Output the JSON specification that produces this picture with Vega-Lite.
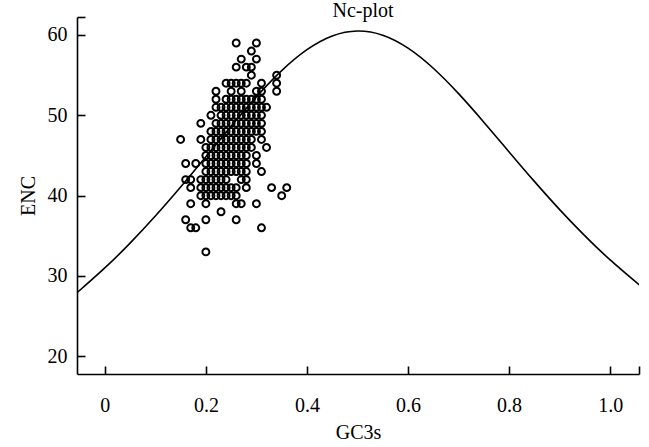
{
  "$schema": "https://vega.github.io/schema/vega-lite/v6.json",
  "autosize": "none",
  "width": 562,
  "height": 357,
  "padding": {"left": 77, "top": 17, "right": 10, "bottom": 73},
  "background": "white",
  "config": {
    "view": {"stroke": null},
    "font": "Liberation Serif",
    "axis": {"grid": false, "domainColor": "black", "domainWidth": 1.6, "tickColor": "black", "tickWidth": 1.6, "tickSize": -8, "labelFont": "Liberation Serif", "labelFontSize": 20, "labelColor": "black", "titleFont": "Liberation Serif", "titleFontSize": 20, "titleFontWeight": "normal", "titleColor": "black"}
  },
  "title": {"text": "Nc-plot", "font": "Liberation Serif", "fontSize": 20, "fontWeight": "normal", "color": "black", "anchor": "middle", "baseline": "alphabetic", "offset": -30, "dx": 5},
  "datasets": {
    "curve": [
      {"s": -0.06, "enc": 27.667}, {"s": -0.05, "enc": 28.194}, {"s": 0.0, "enc": 31.0}, {"s": 0.05, "enc": 34.094},
      {"s": 0.1, "enc": 37.466}, {"s": 0.15, "enc": 41.076}, {"s": 0.2, "enc": 44.847}, {"s": 0.25, "enc": 48.65},
      {"s": 0.3, "enc": 52.3}, {"s": 0.35, "enc": 55.561}, {"s": 0.4, "enc": 58.169}, {"s": 0.45, "enc": 59.876},
      {"s": 0.5, "enc": 60.5}, {"s": 0.55, "enc": 59.976}, {"s": 0.6, "enc": 58.369}, {"s": 0.65, "enc": 55.861},
      {"s": 0.7, "enc": 52.7}, {"s": 0.75, "enc": 49.15}, {"s": 0.8, "enc": 45.447}, {"s": 0.85, "enc": 41.776},
      {"s": 0.9, "enc": 38.266}, {"s": 0.95, "enc": 34.994}, {"s": 1.0, "enc": 32.0}, {"s": 1.05, "enc": 29.294},
      {"s": 1.06, "enc": 28.787}
    ],
    "points": [
      {"gc3s": 0.26, "enc": 59}, {"gc3s": 0.30, "enc": 59},
      {"gc3s": 0.29, "enc": 58},
      {"gc3s": 0.27, "enc": 57}, {"gc3s": 0.30, "enc": 57},
      {"gc3s": 0.26, "enc": 56}, {"gc3s": 0.28, "enc": 56}, {"gc3s": 0.29, "enc": 56},
      {"gc3s": 0.29, "enc": 55}, {"gc3s": 0.34, "enc": 55},
      {"gc3s": 0.24, "enc": 54}, {"gc3s": 0.25, "enc": 54}, {"gc3s": 0.26, "enc": 54}, {"gc3s": 0.27, "enc": 54}, {"gc3s": 0.28, "enc": 54}, {"gc3s": 0.31, "enc": 54}, {"gc3s": 0.34, "enc": 54},
      {"gc3s": 0.22, "enc": 53}, {"gc3s": 0.25, "enc": 53}, {"gc3s": 0.27, "enc": 53}, {"gc3s": 0.30, "enc": 53}, {"gc3s": 0.31, "enc": 53}, {"gc3s": 0.34, "enc": 53},
      {"gc3s": 0.22, "enc": 52}, {"gc3s": 0.24, "enc": 52}, {"gc3s": 0.25, "enc": 52}, {"gc3s": 0.26, "enc": 52}, {"gc3s": 0.27, "enc": 52}, {"gc3s": 0.28, "enc": 52}, {"gc3s": 0.29, "enc": 52}, {"gc3s": 0.30, "enc": 52}, {"gc3s": 0.31, "enc": 52},
      {"gc3s": 0.22, "enc": 51}, {"gc3s": 0.23, "enc": 51}, {"gc3s": 0.24, "enc": 51}, {"gc3s": 0.25, "enc": 51}, {"gc3s": 0.26, "enc": 51}, {"gc3s": 0.27, "enc": 51}, {"gc3s": 0.28, "enc": 51}, {"gc3s": 0.29, "enc": 51}, {"gc3s": 0.30, "enc": 51}, {"gc3s": 0.31, "enc": 51}, {"gc3s": 0.32, "enc": 51},
      {"gc3s": 0.21, "enc": 50}, {"gc3s": 0.23, "enc": 50}, {"gc3s": 0.24, "enc": 50}, {"gc3s": 0.25, "enc": 50}, {"gc3s": 0.26, "enc": 50}, {"gc3s": 0.27, "enc": 50}, {"gc3s": 0.28, "enc": 50}, {"gc3s": 0.29, "enc": 50}, {"gc3s": 0.30, "enc": 50}, {"gc3s": 0.31, "enc": 50},
      {"gc3s": 0.19, "enc": 49}, {"gc3s": 0.22, "enc": 49}, {"gc3s": 0.23, "enc": 49}, {"gc3s": 0.24, "enc": 49}, {"gc3s": 0.25, "enc": 49}, {"gc3s": 0.26, "enc": 49}, {"gc3s": 0.27, "enc": 49}, {"gc3s": 0.28, "enc": 49}, {"gc3s": 0.29, "enc": 49}, {"gc3s": 0.30, "enc": 49}, {"gc3s": 0.31, "enc": 49},
      {"gc3s": 0.21, "enc": 48}, {"gc3s": 0.22, "enc": 48}, {"gc3s": 0.23, "enc": 48}, {"gc3s": 0.24, "enc": 48}, {"gc3s": 0.25, "enc": 48}, {"gc3s": 0.26, "enc": 48}, {"gc3s": 0.27, "enc": 48}, {"gc3s": 0.28, "enc": 48}, {"gc3s": 0.29, "enc": 48}, {"gc3s": 0.30, "enc": 48}, {"gc3s": 0.31, "enc": 48},
      {"gc3s": 0.15, "enc": 47}, {"gc3s": 0.19, "enc": 47}, {"gc3s": 0.21, "enc": 47}, {"gc3s": 0.22, "enc": 47}, {"gc3s": 0.23, "enc": 47}, {"gc3s": 0.24, "enc": 47}, {"gc3s": 0.25, "enc": 47}, {"gc3s": 0.26, "enc": 47}, {"gc3s": 0.27, "enc": 47}, {"gc3s": 0.28, "enc": 47}, {"gc3s": 0.29, "enc": 47}, {"gc3s": 0.31, "enc": 47},
      {"gc3s": 0.20, "enc": 46}, {"gc3s": 0.21, "enc": 46}, {"gc3s": 0.22, "enc": 46}, {"gc3s": 0.23, "enc": 46}, {"gc3s": 0.24, "enc": 46}, {"gc3s": 0.25, "enc": 46}, {"gc3s": 0.26, "enc": 46}, {"gc3s": 0.27, "enc": 46}, {"gc3s": 0.28, "enc": 46}, {"gc3s": 0.29, "enc": 46}, {"gc3s": 0.32, "enc": 46},
      {"gc3s": 0.20, "enc": 45}, {"gc3s": 0.21, "enc": 45}, {"gc3s": 0.22, "enc": 45}, {"gc3s": 0.23, "enc": 45}, {"gc3s": 0.24, "enc": 45}, {"gc3s": 0.25, "enc": 45}, {"gc3s": 0.26, "enc": 45}, {"gc3s": 0.27, "enc": 45}, {"gc3s": 0.28, "enc": 45}, {"gc3s": 0.30, "enc": 45},
      {"gc3s": 0.16, "enc": 44}, {"gc3s": 0.18, "enc": 44}, {"gc3s": 0.20, "enc": 44}, {"gc3s": 0.21, "enc": 44}, {"gc3s": 0.22, "enc": 44}, {"gc3s": 0.23, "enc": 44}, {"gc3s": 0.24, "enc": 44}, {"gc3s": 0.25, "enc": 44}, {"gc3s": 0.26, "enc": 44}, {"gc3s": 0.27, "enc": 44}, {"gc3s": 0.28, "enc": 44}, {"gc3s": 0.30, "enc": 44},
      {"gc3s": 0.20, "enc": 43}, {"gc3s": 0.21, "enc": 43}, {"gc3s": 0.22, "enc": 43}, {"gc3s": 0.23, "enc": 43}, {"gc3s": 0.24, "enc": 43}, {"gc3s": 0.25, "enc": 43}, {"gc3s": 0.26, "enc": 43}, {"gc3s": 0.27, "enc": 43}, {"gc3s": 0.28, "enc": 43}, {"gc3s": 0.31, "enc": 43},
      {"gc3s": 0.16, "enc": 42}, {"gc3s": 0.17, "enc": 42}, {"gc3s": 0.19, "enc": 42}, {"gc3s": 0.20, "enc": 42}, {"gc3s": 0.21, "enc": 42}, {"gc3s": 0.22, "enc": 42}, {"gc3s": 0.23, "enc": 42}, {"gc3s": 0.24, "enc": 42}, {"gc3s": 0.27, "enc": 42}, {"gc3s": 0.28, "enc": 42},
      {"gc3s": 0.17, "enc": 41}, {"gc3s": 0.19, "enc": 41}, {"gc3s": 0.20, "enc": 41}, {"gc3s": 0.21, "enc": 41}, {"gc3s": 0.22, "enc": 41}, {"gc3s": 0.23, "enc": 41}, {"gc3s": 0.24, "enc": 41}, {"gc3s": 0.25, "enc": 41}, {"gc3s": 0.26, "enc": 41}, {"gc3s": 0.28, "enc": 41}, {"gc3s": 0.33, "enc": 41}, {"gc3s": 0.36, "enc": 41},
      {"gc3s": 0.19, "enc": 40}, {"gc3s": 0.20, "enc": 40}, {"gc3s": 0.21, "enc": 40}, {"gc3s": 0.22, "enc": 40}, {"gc3s": 0.23, "enc": 40}, {"gc3s": 0.24, "enc": 40}, {"gc3s": 0.25, "enc": 40}, {"gc3s": 0.26, "enc": 40}, {"gc3s": 0.35, "enc": 40},
      {"gc3s": 0.17, "enc": 39}, {"gc3s": 0.20, "enc": 39}, {"gc3s": 0.26, "enc": 39}, {"gc3s": 0.27, "enc": 39}, {"gc3s": 0.30, "enc": 39},
      {"gc3s": 0.23, "enc": 38},
      {"gc3s": 0.16, "enc": 37}, {"gc3s": 0.20, "enc": 37}, {"gc3s": 0.26, "enc": 37},
      {"gc3s": 0.17, "enc": 36}, {"gc3s": 0.18, "enc": 36}, {"gc3s": 0.31, "enc": 36},
      {"gc3s": 0.20, "enc": 33}
    ]
  },
  "layer": [
    {
      "data": {"name": "curve"},
      "mark": {"type": "line", "color": "black", "strokeWidth": 1.6, "interpolate": "natural", "clip": true},
      "encoding": {
        "x": {"field": "s", "type": "quantitative", "scale": {"domain": [-0.055, 1.057], "nice": false, "zero": false},
              "axis": {"title": "GC3s", "values": [0, 0.2, 0.4, 0.6, 0.8, 1.0, 1.057], "labelExpr": "datum.value > 1.05 ? '' : (datum.value == 0 ? '0' : format(datum.value, '.1f'))", "labelPadding": 29, "labelFlush": false, "labelOverlap": false, "titleBaseline": "alphabetic", "titleY": 64}},
        "y": {"field": "enc", "type": "quantitative", "scale": {"domain": [17.8, 62.24], "nice": false, "zero": false},
              "axis": {"title": "ENC", "values": [20, 30, 40, 50, 60, 62.24], "labelExpr": "datum.value > 61 ? '' : datum.label", "labelPadding": 18, "labelFlush": false, "labelOverlap": false, "titleBaseline": "alphabetic", "titleX": -43}}
      }
    },
    {
      "data": {"name": "points"},
      "mark": {"type": "point", "shape": "circle", "filled": false, "stroke": "black", "strokeWidth": 2, "size": 48, "opacity": 1},
      "encoding": {
        "x": {"field": "gc3s", "type": "quantitative"},
        "y": {"field": "enc", "type": "quantitative"}
      }
    }
  ]
}
